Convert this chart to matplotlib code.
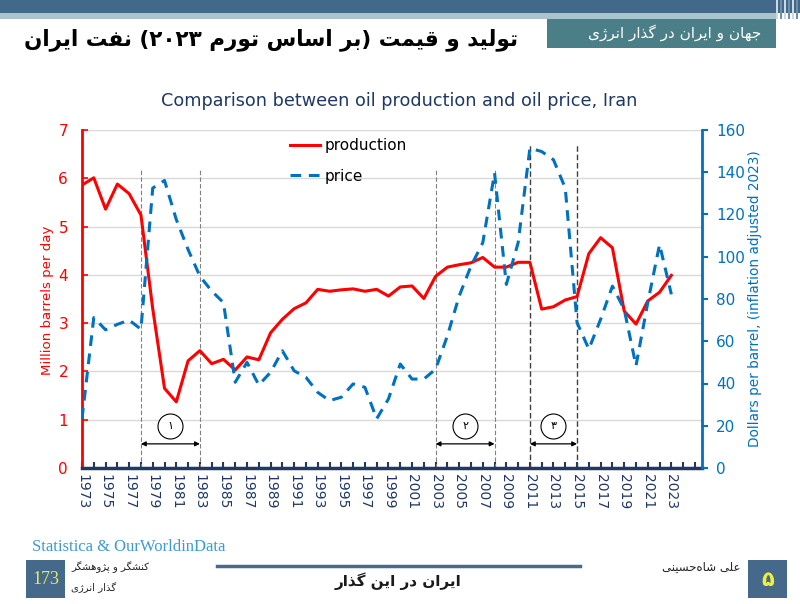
import re
import matplotlib
matplotlib.use('Agg')
import matplotlib.pyplot as plt
from matplotlib.patches import Rectangle
from matplotlib.lines import Line2D

# ---- data ----
years = list(range(1973, 2024))
production = [5.86, 6.01, 5.36, 5.88, 5.68, 5.24, 3.30, 1.65, 1.37, 2.22,
              2.43, 2.16, 2.25, 2.03, 2.30, 2.24, 2.80, 3.08, 3.30, 3.42,
              3.70, 3.66, 3.69, 3.71, 3.66, 3.70, 3.56, 3.75, 3.77, 3.51,
              3.97, 4.16, 4.21, 4.25, 4.36, 4.16, 4.16, 4.26, 4.26, 3.29,
              3.34, 3.48, 3.55, 4.44, 4.77, 4.56, 3.25, 2.98, 3.46, 3.64, 3.99]
price = [23.3, 71.2, 65.4, 68.0, 70.0, 65.7, 132.5, 136.1, 117.6, 103.4,
         90.8, 83.8, 78.3, 40.6, 50.0, 39.3, 45.3, 55.5, 46.0, 42.9,
         35.8, 31.9, 33.5, 39.8, 38.2, 23.3, 32.7, 49.2, 42.1, 42.1,
         46.8, 62.6, 81.4, 95.6, 106.6, 139.6, 86.9, 106.6, 151.4, 149.8,
         145.9, 132.5, 68.8, 56.3, 70.4, 86.1, 75.1, 48.4, 78.3, 105.8, 82.2]
# (start, end, label, top of marker line on left axis, strong line?)
periods = [(1978, 1983, '۱', 6.2, False),
           (2003, 2008, '۲', 6.2, False),
           (2011, 2015, '۳', 6.7, True)]

title_en = 'Comparison between oil production and oil price, Iran'
title_fa = 'تولید و قیمت (بر اساس تورم ۲۰۲۳) نفت ایران'
header_fa = 'جهان و ایران در گذار انرژی'
footer_mid = 'ایران در این گذار'
footer_left1 = 'کنشگر و پژوهشگر'
footer_left2 = 'گذار انرژی'
footer_author = 'علی شاه\u200cحسینی'
page_left = '173'
page_right = '۵'
source = 'Statistica & OurWorldinData'

RED = '#FF0000'
BLUE = '#0070C0'
NAVY = '#1F3864'

# ---- minimal persian shaping (matplotlib has no bidi/shaping) ----
FORMS = {
    'ا': ('\uFE8D', '\uFE8E', None, None),
    'ب': ('\uFE8F', '\uFE90', '\uFE91', '\uFE92'),
    'پ': ('\uFB56', '\uFB57', '\uFB58', '\uFB59'),
    'ت': ('\uFE95', '\uFE96', '\uFE97', '\uFE98'),
    'ج': ('\uFE9D', '\uFE9E', '\uFE9F', '\uFEA0'),
    'ح': ('\uFEA1', '\uFEA2', '\uFEA3', '\uFEA4'),
    'د': ('\uFEA9', '\uFEAA', None, None),
    'ذ': ('\uFEAB', '\uFEAC', None, None),
    'ر': ('\uFEAD', '\uFEAE', None, None),
    'ژ': ('\uFB8A', '\uFB8B', None, None),
    'س': ('\uFEB1', '\uFEB2', '\uFEB3', '\uFEB4'),
    'ش': ('\uFEB5', '\uFEB6', '\uFEB7', '\uFEB8'),
    'ع': ('\uFEC9', '\uFECA', '\uFECB', '\uFECC'),
    'ف': ('\uFED1', '\uFED2', '\uFED3', '\uFED4'),
    'ق': ('\uFED5', '\uFED6', '\uFED7', '\uFED8'),
    'ک': ('\uFB8E', '\uFB8F', '\uFB90', '\uFB91'),
    'گ': ('\uFB92', '\uFB93', '\uFB94', '\uFB95'),
    'ل': ('\uFEDD', '\uFEDE', '\uFEDF', '\uFEE0'),
    'م': ('\uFEE1', '\uFEE2', '\uFEE3', '\uFEE4'),
    'ن': ('\uFEE5', '\uFEE6', '\uFEE7', '\uFEE8'),
    'ه': ('\uFEE9', '\uFEEA', '\uFEEB', '\uFEEC'),
    'و': ('\uFEED', '\uFEEE', None, None),
    'ی': ('\uFBFC', '\uFBFD', '\uFBFE', '\uFBFF'),
}


def fa(text):
    out = []
    for i, c in enumerate(text):
        if c not in FORMS:
            out.append(c)
            continue
        prev = text[i - 1] if i > 0 else None
        nxt = text[i + 1] if i + 1 < len(text) else None
        jp = prev in FORMS and FORMS[prev][2] is not None
        jn = nxt in FORMS and FORMS[c][2] is not None
        iso, fin, ini, med = FORMS[c]
        if jp and jn:
            out.append(med)
        elif jp:
            out.append(fin)
        elif jn:
            out.append(ini)
        else:
            out.append(iso)
    s = ''.join(out).replace('\u200c', '')[::-1]
    s = s.translate(str.maketrans('()', ')('))
    s = re.sub(r'[0-9\u06F0-\u06F9]+', lambda m: m.group(0)[::-1], s)
    return s


def fx(x):
    return x / 800


def fy(y):
    return 1 - y / 604


fig = plt.figure(figsize=(8, 6.04), dpi=100)
fig.patch.set_facecolor('white')

# ---- header ----
fig.add_artist(Rectangle((0, fy(13)), 1, 13 / 604, transform=fig.transFigure,
                         color='#43698A', lw=0))
fig.add_artist(Rectangle((0, fy(19)), fx(776), 6 / 604, transform=fig.transFigure,
                         color='#A9C4CC', lw=0))
for i, x in enumerate(range(776, 800, 4)):
    fig.add_artist(Rectangle((fx(x), fy(19)), fx(2), 19 / 604, transform=fig.transFigure,
                             color='#C9DAE0' if i % 2 == 0 else '#6F8FA8', lw=0))
fig.add_artist(Rectangle((fx(547), fy(48)), fx(229), 29 / 604, transform=fig.transFigure,
                         color='#4B7F88', lw=0))
fig.text(fx(675), fy(33), fa(header_fa), color='white', fontsize=11,
         ha='center', va='center', family=['DejaVu Sans'])
fig.text(fx(271), fy(40), fa(title_fa), color='black', fontsize=15.5, weight='bold',
         ha='center', va='center', family=['DejaVu Sans'])

fig.text(fx(399), fy(101), title_en, color=NAVY, fontsize=12.7, ha='center', va='center')

# ---- chart ----
ax = fig.add_axes([fx(82), fy(468), 620 / 800, 338 / 604])
ax2 = ax.twinx()

ax.plot(years, production, color=RED, lw=2.2, zorder=3)
ax2.plot(years, price, color=BLUE, lw=2.2, linestyle=(0, (3.5, 2.5)), zorder=3)

for start, end, lab, top, strong in periods:
    c = '#404040' if strong else '#808080'
    for x in (start, end):
        ax.plot([x, x], [0, top], color=c, lw=1.0 if strong else 0.8,
                linestyle=(0, (4, 2)), zorder=2)
    ax.annotate('', xy=(end, 0.5), xytext=(start, 0.5),
                arrowprops=dict(arrowstyle='<|-|>', color='black', lw=0.9,
                                mutation_scale=7, shrinkA=0, shrinkB=0))
    mid = (start + end) / 2
    ax.plot(mid, 0.87, 'o', ms=18, mfc='white', mec='black', mew=0.8, zorder=4)
    ax.text(mid, 0.87, lab, fontsize=8, ha='center', va='center', zorder=5,
            family=['DejaVu Sans'])

ax.set_xlim(1973, 2025.6)
ax.set_ylim(0, 7)
ax2.set_ylim(0, 160)
ax.set_yticks(range(0, 8))
ax2.set_yticks(range(0, 161, 20))
ax.set_xticks(years + [2024, 2025])
ax.set_xticklabels([str(y) if (y - 1973) % 2 == 0 and y <= 2023 else '' for y in years + [2024, 2025]])

ax.yaxis.grid(True, color='#D9D9D9', lw=1)
ax.set_axisbelow(True)

ax.tick_params(axis='x', direction='in', length=4, width=1.5, color=NAVY,
               labelcolor=NAVY, labelsize=10, pad=4, labelrotation=-90)
ax.tick_params(axis='y', direction='in', length=4, width=1.2, color=RED,
               labelcolor=RED, labelsize=11, pad=10)
ax2.tick_params(axis='y', direction='out', length=4, width=1.5, color=BLUE,
                labelcolor=BLUE, labelsize=11, pad=6)

for s in ('top', 'right'):
    ax.spines[s].set_visible(False)
for s in ('top', 'left', 'bottom'):
    ax2.spines[s].set_visible(False)
ax.spines['left'].set_color(RED)
ax.spines['left'].set_linewidth(2)
ax.spines['bottom'].set_color(NAVY)
ax.spines['bottom'].set_linewidth(2.5)
ax2.spines['right'].set_color(BLUE)
ax2.spines['right'].set_linewidth(2)

handles = [Line2D([], [], color=RED, lw=2.2),
           Line2D([], [], color=BLUE, lw=2.2, linestyle=(0, (3.5, 2.5)))]
ax2.legend(handles, ['production', 'price'], loc='upper left',
           bbox_to_anchor=(0.335, 0.975), frameon=False, fontsize=11,
           handlelength=2.0, handletextpad=0.3, labelspacing=1.0,
           borderpad=0, borderaxespad=0)

fig.text(fx(48), fy(300), 'Million barrels per day', color=RED, fontsize=9.6,
         rotation=90, ha='center', va='center')
fig.text(fx(755), fy(299), 'Dollars per barrel, (inflation adjusted 2023)', color=BLUE,
         fontsize=9.8, rotation=90, ha='center', va='center')

# ---- footer ----
fig.text(fx(32), fy(547), source, color='#3D9BD3', fontsize=12, ha='left', va='center',
         family='Liberation Serif')
fig.add_artist(Rectangle((fx(26), fy(598)), fx(39), 38 / 604, transform=fig.transFigure,
                         color='#45698A', lw=0))
fig.text(fx(45.5), fy(579), page_left, color='#E8E85A', fontsize=13, ha='center',
         va='center', family='Liberation Serif')
fig.text(fx(71), fy(567), fa(footer_left1), fontsize=7.3, ha='left', va='center',
         family=['DejaVu Sans'], color='#222222')
fig.text(fx(71), fy(588), fa(footer_left2), fontsize=7.3, ha='left', va='center',
         family=['DejaVu Sans'], color='#222222')
fig.add_artist(Line2D([fx(217), fx(580)], [fy(566), fy(566)], transform=fig.transFigure,
                      color='#4A6B88', lw=2.5))
fig.text(fx(398), fy(581), fa(footer_mid), fontsize=11, weight='bold', ha='center',
         va='center', family=['DejaVu Sans'], color='#1a1a1a')
fig.text(fx(740), fy(567), fa(footer_author), fontsize=8.5, ha='right', va='center',
         family=['DejaVu Sans'], color='#222222')
fig.add_artist(Rectangle((fx(748), fy(598)), fx(39), 38 / 604, transform=fig.transFigure,
                         color='#45698A', lw=0))
fig.text(fx(767.5), fy(580), page_right, color='#F0F03C', fontsize=15, weight='bold',
         ha='center', va='center', family=['DejaVu Sans'])

fig.savefig('out.png', dpi=100)
